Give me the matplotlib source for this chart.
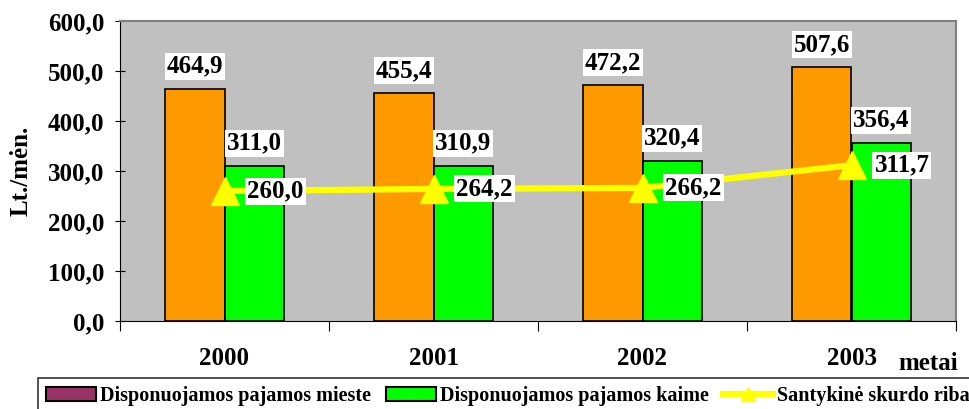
import numpy as np
import matplotlib.pyplot as plt
from matplotlib.patches import Patch
from matplotlib.lines import Line2D

years = ['2000', '2001', '2002', '2003']
miestas = [464.9, 455.4, 472.2, 507.6]
kaimas = [311.0, 310.9, 320.4, 356.4]
skurdo_riba = [260.0, 264.2, 266.2, 311.7]

plt.rcParams['font.family'] = 'Liberation Serif'
plt.rcParams['font.weight'] = 'bold'
FS = 18

fig = plt.figure(figsize=(9.69, 4.09), dpi=100)
ax = fig.add_axes([120 / 969, 88 / 409, 836 / 969, 300 / 409])
ax.set_facecolor('#c0c0c0')

x = np.arange(len(years))
w = 0.283
ax.bar(x - w / 2, miestas, w, color='#ff9900', edgecolor='black', lw=1.2, zorder=2)
ax.bar(x + w / 2, kaimas, w, color='#00ff00', edgecolor='black', lw=1.2, zorder=2)
ax.plot(x, skurdo_riba, color='#ffff00', lw=4.5, marker='^', ms=20, zorder=3)

box = dict(facecolor='white', edgecolor='none', pad=1.5)
for xi, v in zip(x - w / 2, miestas):
    ax.text(xi, v + 22, f'{v:.1f}'.replace('.', ','), ha='center', va='bottom',
            fontsize=FS, fontweight='bold', bbox=box, zorder=4)
for xi, v in zip(x + w / 2, kaimas):
    ax.text(xi, v + 22, f'{v:.1f}'.replace('.', ','), ha='center', va='bottom',
            fontsize=FS, fontweight='bold', bbox=box, zorder=4)
for xi, v in zip(x, skurdo_riba):
    ax.text(xi + 0.11, v, f'{v:.1f}'.replace('.', ','), ha='left', va='center',
            fontsize=FS, fontweight='bold', bbox=box, zorder=4)

ax.set_xlim(-0.5, 3.5)
ax.set_ylim(0, 600)
ax.set_yticks(np.arange(0, 601, 100))
ax.set_yticklabels([f'{t:.1f}'.replace('.', ',') for t in np.arange(0, 601, 100)],
                   fontsize=FS, fontweight='bold')
ax.set_xticks(np.arange(-0.5, 3.6, 1))
ax.set_xticklabels([])
ax.set_xticks(x, minor=True)
ax.set_xticklabels(years, minor=True, fontsize=FS, fontweight='bold')
ax.tick_params(axis='x', which='minor', length=0, pad=19)
ax.tick_params(axis='x', which='major', length=7, direction='out')
ax.tick_params(axis='y', length=7, direction='inout', pad=8)
for s in ['top', 'right']:
    ax.spines[s].set_color('#808080')
    ax.spines[s].set_linewidth(1.5)
ax.set_ylabel('Lt./mėn.', fontsize=FS, fontweight='bold', labelpad=11)
fig.text(958 / 969, 1 - 364 / 409, 'metai', ha='right', va='center',
         fontsize=FS, fontweight='bold')

handles = [Patch(facecolor='#993366', edgecolor='black', lw=1.5),
           Patch(facecolor='#00ff00', edgecolor='black', lw=1.5),
           Line2D([], [], color='#ffff00', lw=4.5, marker='^', ms=10)]
labels = ['Disponuojamos pajamos mieste', 'Disponuojamos pajamos kaime',
          'Santykinė skurdo riba']
leg = fig.legend(handles, labels, loc='upper left', bbox_to_anchor=(38 / 969, 1 - 378 / 409),
                 ncol=3, frameon=True, fancybox=False, edgecolor='black',
                 prop={'size': 14.5, 'weight': 'bold'}, handlelength=2.5, handleheight=0.63,
                 handletextpad=0.2, columnspacing=0.7, borderpad=0.4, borderaxespad=0)
leg.get_frame().set_linewidth(1.2)

fig.savefig('out.png', dpi=100)
